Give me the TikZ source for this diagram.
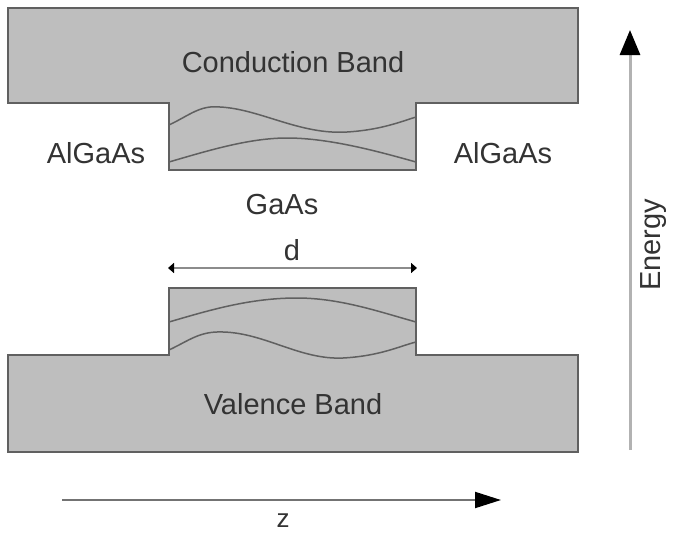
\documentclass[tikz,border=0pt]{standalone}
\usepackage{fontspec}
\setmainfont{Liberation Sans}
\usetikzlibrary{arrows.meta}
\definecolor{bandfill}{HTML}{BEBEBE}
\definecolor{bandline}{HTML}{606060}
\definecolor{txt}{HTML}{333333}
\tikzset{
  band/.style={fill=bandfill, draw=bandline, line width=1.8pt},
  wave/.style={draw=bandline, line width=1.5pt},
  lbl/.style={text=txt, font=\fontsize{29}{32}\selectfont, inner sep=0pt},
}
\begin{document}
\begin{tikzpicture}[x=1pt,y=-1pt]
\useasboundingbox (0,0) rectangle (673,536);
% conduction band
\draw[band] (8,8) -- (578,8) -- (578,103) -- (416,103) -- (416,170) -- (169,170) -- (169,103) -- (8,103) -- cycle;
\draw[wave] (169,125) .. controls (190,115) and (200,105) .. (220,107) .. controls (260,109) and (300,135) .. (347,132) .. controls (380,130) and (400,122) .. (416,117);
\draw[wave] (169,162) .. controls (210,150) and (250,138) .. (287,138) .. controls (330,138) and (380,152) .. (416,162);
% valence band
\draw[band] (169,288) -- (416,288) -- (416,355) -- (578,355) -- (578,452) -- (8,452) -- (8,355) -- (169,355) -- cycle;
\draw[wave] (169,322) .. controls (210,310) and (250,298) .. (297,298) .. controls (340,298) and (380,312) .. (416,322);
\draw[wave] (169,350) .. controls (190,340) and (200,331) .. (223,332) .. controls (265,333) and (300,360) .. (343,358) .. controls (380,356) and (400,346) .. (416,342);
% labels
\node[lbl] (cb) at (293,62) {Conduction Band};
\node[lbl] (vb) at (293,404) {Valence Band};
\node[lbl] (al1) at (96,153) {AlGaAs};
\node[lbl] (al2) at (503,153) {AlGaAs};
\node[lbl] (gaas) at (282,205) {GaAs};
% d arrow
\coordinate (d1) at (168,268);
\coordinate (d2) at (417,268);
\draw[draw=black!45, line width=2.5pt, {Triangle[length=6pt,width=10pt,color=black]}-{Triangle[length=6pt,width=10pt,color=black]}] (d1) -- (d2);
\node[lbl] (d) at (292,250) {d};
% energy axis
\coordinate (e1) at (630,450);
\coordinate (e2) at (630,30);
\draw[draw=black!30, line width=3pt, -{Triangle[length=25pt,width=20pt,color=black]}] (e1) -- (e2);
\node[lbl, rotate=90] (en) at (654,245) {Energy};
% z axis
\coordinate (z1) at (62,500);
\coordinate (z2) at (501,500);
\draw[draw=black!55, line width=2pt, -{Triangle[length=26pt,width=16pt,color=black]}] (z1) -- (z2);
\node[lbl, font=\fontsize{26}{28}\selectfont] (z) at (283,521) {z};
\end{tikzpicture}
\end{document}
